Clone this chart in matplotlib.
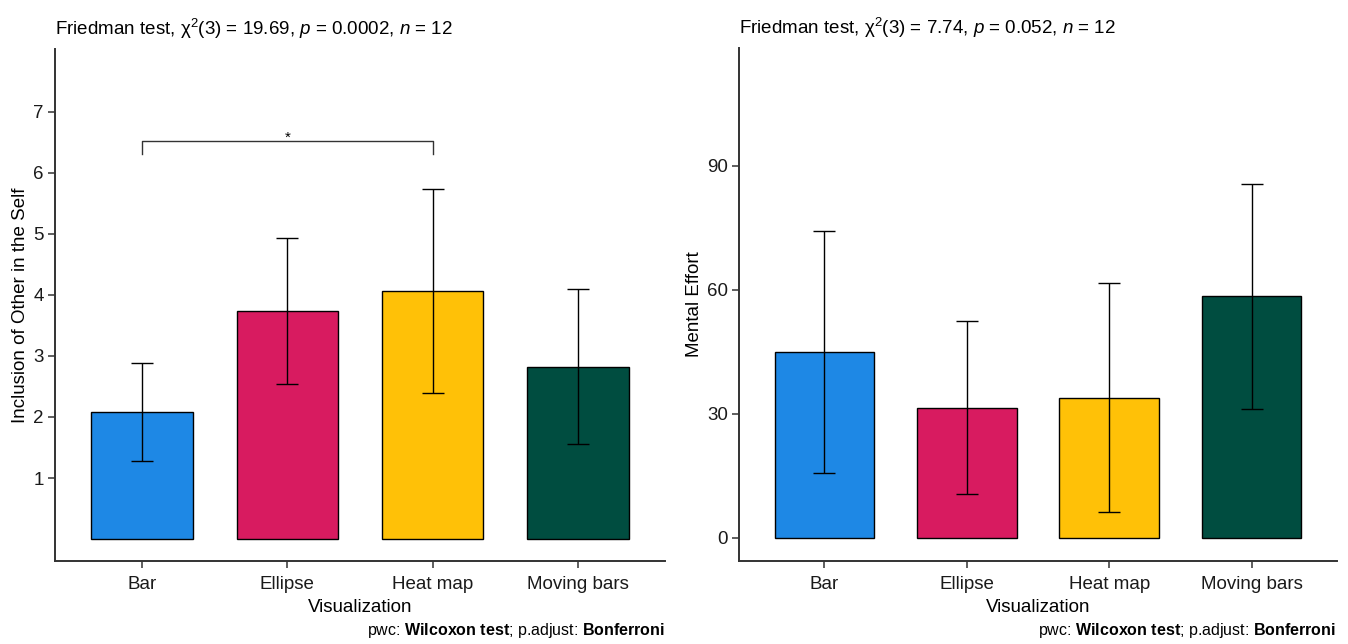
import numpy as np
import matplotlib
matplotlib.use('Agg')
import matplotlib.pyplot as plt

plt.rcParams['font.family'] = ['Liberation Sans', 'DejaVu Sans']
plt.rcParams['mathtext.fontset'] = 'custom'
plt.rcParams['mathtext.rm'] = 'Liberation Sans'
plt.rcParams['mathtext.it'] = 'Liberation Sans:italic'
plt.rcParams['mathtext.bf'] = 'Liberation Sans:bold'

# 数据
categories = ['Bar', 'Ellipse', 'Heat map', 'Moving bars']
colors = ['#1E88E5', '#D81B60', '#FFC107', '#004D40']

ios_mean = [2.08, 3.74, 4.07, 2.82]
ios_sd = [0.80, 1.20, 1.67, 1.27]

effort_mean = [45.0, 31.5, 33.9, 58.4]
effort_sd = [29.2, 21.0, 27.7, 27.2]

ios_title = r'Friedman test, χ$^2$(3) = 19.69, $\it{p}$ = 0.0002, $\it{n}$ = 12'
effort_title = r'Friedman test, χ$^2$(3) = 7.74, $\it{p}$ = 0.052, $\it{n}$ = 12'
caption = r'pwc: $\mathbf{Wilcoxon\ test}$; p.adjust: $\mathbf{Bonferroni}$'

# 显著性标注 (Bar vs Heat map)
sig_pair = (0, 2)
sig_y = 6.52
sig_label = '*'

W, H = 1348, 644
fig = plt.figure(figsize=(W / 100, H / 100), dpi=100)

axis_col = '#333333'
fs = 13.5


def draw_panel(ax, means, sds, ylabel, title, ylim, yticks):
    x = np.arange(1, len(categories) + 1)
    ax.bar(x, means, width=0.7, color=colors, edgecolor='black', linewidth=1.0, zorder=2)
    ax.errorbar(x, means, yerr=sds, fmt='none', ecolor='black', elinewidth=1.0,
                capsize=8, capthick=1.0, zorder=3)
    ax.set_xlim(0.4, 4.6)
    ax.set_ylim(*ylim)
    ax.set_xticks(x)
    ax.set_xticklabels(categories, fontsize=fs)
    ax.set_yticks(yticks)
    ax.set_yticklabels([str(t) for t in yticks], fontsize=fs)
    ax.set_xlabel('Visualization', fontsize=fs, labelpad=4)
    ax.set_ylabel(ylabel, fontsize=fs, labelpad=3)
    ax.set_title(title, loc='left', fontsize=fs, pad=10)
    for s in ['top', 'right']:
        ax.spines[s].set_visible(False)
    for s in ['left', 'bottom']:
        ax.spines[s].set_color(axis_col)
        ax.spines[s].set_linewidth(1.4)
    ax.tick_params(axis='both', direction='out', length=5, width=1.1,
                   color=axis_col, labelcolor='#1a1a1a', pad=3)
    ax.tick_params(axis='x', pad=6)


ax1 = fig.add_axes([55 / W, (H - 561) / H, 610 / W, 512 / H])
draw_panel(ax1, ios_mean, ios_sd, 'Inclusion of Other in the Self', ios_title,
           (-0.36, 8.03), [1, 2, 3, 4, 5, 6, 7])

# 括号
x1, x2 = sig_pair[0] + 1, sig_pair[1] + 1
ax1.plot([x1, x1, x2, x2], [sig_y - 0.21, sig_y, sig_y, sig_y - 0.21],
         color='#333333', linewidth=1.0)
ax1.text((x1 + x2) / 2, sig_y - 0.06, sig_label, ha='center', va='bottom', fontsize=11)

ax2 = fig.add_axes([739 / W, (H - 561) / H, 598 / W, 513 / H])
draw_panel(ax2, effort_mean, effort_sd, 'Mental Effort', effort_title,
           (-5.6, 118.5), [0, 30, 60, 90])

fig.text(665 / W, 1 - 631 / H, caption, ha='right', va='center', fontsize=11.5)
fig.text(1336 / W, 1 - 631 / H, caption, ha='right', va='center', fontsize=11.5)

fig.savefig('out.png', dpi=100)
